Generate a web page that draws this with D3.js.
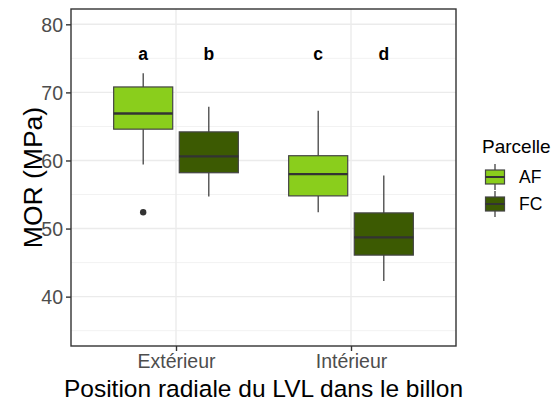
<!DOCTYPE html>
<html>
<head>
<meta charset="utf-8">
<script src="https://cdn.jsdelivr.net/npm/d3@7"></script>
<style>
  html, body { margin: 0; padding: 0; background: #fff; }
  svg { display: block; font-family: "Liberation Sans", Arial, sans-serif; }
</style>
</head>
<body>
<svg id="chart" width="556" height="403"></svg>
<script>
// ---- data ----
const categories = ["Extérieur", "Intérieur"];
const groups = ["AF", "FC"];
const groupColors = ["#8ACE1C", "#3C5A02"];
// box statistics per group, one value per category
const afLower  = [59.4, 52.4];
const afQ1     = [64.6, 54.8];
const afMedian = [66.9, 58.0];
const afQ3     = [70.8, 60.7];
const afUpper  = [72.8, 67.3];
const fcLower  = [54.7, 42.3];
const fcQ1     = [58.2, 46.1];
const fcMedian = [60.6, 48.7];
const fcQ3     = [64.2, 52.3];
const fcUpper  = [67.9, 57.8];
const outlierCats = ["Extérieur"];
const outlierGroups = ["AF"];
const outlierValues = [52.4];
const letterLabels = ["a", "b", "c", "d"];
const letterCats = ["Extérieur", "Extérieur", "Intérieur", "Intérieur"];
const letterGroups = ["AF", "FC", "AF", "FC"];
const letterY = 75.7;
const yTicks = [40, 50, 60, 70, 80];
const yMinor = [35, 45, 55, 65, 75];

const boxes = [];
categories.forEach((c, i) => {
  boxes.push({cat: c, group: "AF", lower: afLower[i], q1: afQ1[i], median: afMedian[i], q3: afQ3[i], upper: afUpper[i]});
  boxes.push({cat: c, group: "FC", lower: fcLower[i], q1: fcQ1[i], median: fcMedian[i], q3: fcQ3[i], upper: fcUpper[i]});
});

// ---- layout ----
const panel = {left: 71, right: 456, top: 9, bottom: 346};
const svg = d3.select("#chart");

const x = d3.scalePoint().domain(categories).range([panel.left, panel.right]).padding(0.6);
const step = x.step();
const color = d3.scaleOrdinal().domain(groups).range(groupColors);
const dodge = d3.scaleBand().domain(groups).range([-0.375 * step, 0.375 * step]);
const boxW = dodge.bandwidth() * 0.9;
const y = d3.scaleLinear().domain([32.75, 82.25]).range([panel.bottom, panel.top]);

const cx = (c, g) => x(c) + dodge(g) + dodge.bandwidth() / 2;

// grid
const grid = svg.append("g");
grid.selectAll("line.minor").data(yMinor).join("line")
  .attr("x1", panel.left).attr("x2", panel.right)
  .attr("y1", d => y(d)).attr("y2", d => y(d))
  .attr("stroke", "#F2F2F2").attr("stroke-width", 1);
grid.selectAll("line.major").data(yTicks).join("line")
  .attr("x1", panel.left).attr("x2", panel.right)
  .attr("y1", d => y(d)).attr("y2", d => y(d))
  .attr("stroke", "#EBEBEB").attr("stroke-width", 1.4);
grid.selectAll("line.vmajor").data(categories).join("line")
  .attr("x1", d => x(d)).attr("x2", d => x(d))
  .attr("y1", panel.top).attr("y2", panel.bottom)
  .attr("stroke", "#EBEBEB").attr("stroke-width", 1.4);

// boxplots
const bx = svg.append("g");
const bg = bx.selectAll("g.box").data(boxes).join("g");
bg.append("line")
  .attr("x1", d => cx(d.cat, d.group)).attr("x2", d => cx(d.cat, d.group))
  .attr("y1", d => y(d.upper)).attr("y2", d => y(d.q3))
  .attr("stroke", "#333").attr("stroke-width", 1.2);
bg.append("line")
  .attr("x1", d => cx(d.cat, d.group)).attr("x2", d => cx(d.cat, d.group))
  .attr("y1", d => y(d.q1)).attr("y2", d => y(d.lower))
  .attr("stroke", "#333").attr("stroke-width", 1.2);
bg.append("rect")
  .attr("x", d => cx(d.cat, d.group) - boxW / 2)
  .attr("width", boxW)
  .attr("y", d => y(d.q3))
  .attr("height", d => y(d.q1) - y(d.q3))
  .attr("fill", d => color(d.group))
  .attr("stroke", "#444").attr("stroke-width", 1.2);
bg.append("line")
  .attr("x1", d => cx(d.cat, d.group) - boxW / 2).attr("x2", d => cx(d.cat, d.group) + boxW / 2)
  .attr("y1", d => y(d.median)).attr("y2", d => y(d.median))
  .attr("stroke", "#333").attr("stroke-width", 2.4);

// outliers
bx.selectAll("circle").data(outlierValues).join("circle")
  .attr("cx", (d, i) => cx(outlierCats[i], outlierGroups[i]))
  .attr("cy", d => y(d))
  .attr("r", 3.2).attr("fill", "#333");

// letters
svg.append("g").selectAll("text").data(letterLabels).join("text")
  .attr("x", (d, i) => cx(letterCats[i], letterGroups[i]))
  .attr("y", y(letterY))
  .attr("dy", "0.35em")
  .attr("text-anchor", "middle")
  .attr("font-weight", "bold")
  .attr("font-size", 17.5)
  .attr("fill", "#000")
  .text(d => d);

// panel border
svg.append("rect")
  .attr("x", panel.left).attr("y", panel.top)
  .attr("width", panel.right - panel.left).attr("height", panel.bottom - panel.top)
  .attr("fill", "none").attr("stroke", "#333").attr("stroke-width", 1.4);

// axes
const yAxis = svg.append("g").attr("transform", `translate(${panel.left},0)`)
  .call(d3.axisLeft(y).tickValues(yTicks).tickSize(5).tickPadding(3));
const xAxis = svg.append("g").attr("transform", `translate(0,${panel.bottom})`)
  .call(d3.axisBottom(x).tickSize(5).tickPadding(3));
[yAxis, xAxis].forEach(a => {
  a.select(".domain").remove();
  a.selectAll(".tick line").attr("stroke", "#333").attr("stroke-width", 1.4);
  a.selectAll(".tick text").attr("fill", "#4D4D4D").attr("font-size", 19.5)
    .attr("font-family", "'Liberation Sans', Arial, sans-serif");
});
yAxis.selectAll(".tick text").attr("dy", "0.36em");
xAxis.selectAll(".tick text").attr("dy", "0.74em");

// axis titles
svg.append("text")
  .attr("x", (panel.left + panel.right) / 2).attr("y", 397)
  .attr("text-anchor", "middle").attr("font-size", 24.5).attr("fill", "#000")
  .text("Position radiale du LVL dans le billon");
svg.append("text")
  .attr("transform", `translate(42,${(panel.top + panel.bottom) / 2}) rotate(-90)`)
  .attr("text-anchor", "middle").attr("font-size", 26.5).attr("fill", "#000")
  .text("MOR (MPa)");

// legend
const lg = svg.append("g");
lg.append("text").attr("x", 482).attr("y", 153).attr("font-size", 19).attr("fill", "#000").text("Parcelle");
const keyH = 27;
const items = lg.selectAll("g.item").data(groups).join("g")
  .attr("transform", (d, i) => `translate(484,${164 + i * keyH})`);
items.append("line").attr("x1", 11).attr("x2", 11).attr("y1", 0).attr("y2", keyH - 1)
  .attr("stroke", "#333").attr("stroke-width", 1.2);
items.append("rect").attr("x", 1.5).attr("y", 6).attr("width", 19).attr("height", 14)
  .attr("fill", d => color(d)).attr("stroke", "#444").attr("stroke-width", 1.2);
items.append("line").attr("x1", 1.5).attr("x2", 20.5).attr("y1", 13).attr("y2", 13)
  .attr("stroke", "#333").attr("stroke-width", 2);
items.append("text").attr("x", 35).attr("y", 13).attr("dy", "0.36em")
  .attr("font-size", 17.5).attr("fill", "#000").text(d => d);
</script>
</body>
</html>
